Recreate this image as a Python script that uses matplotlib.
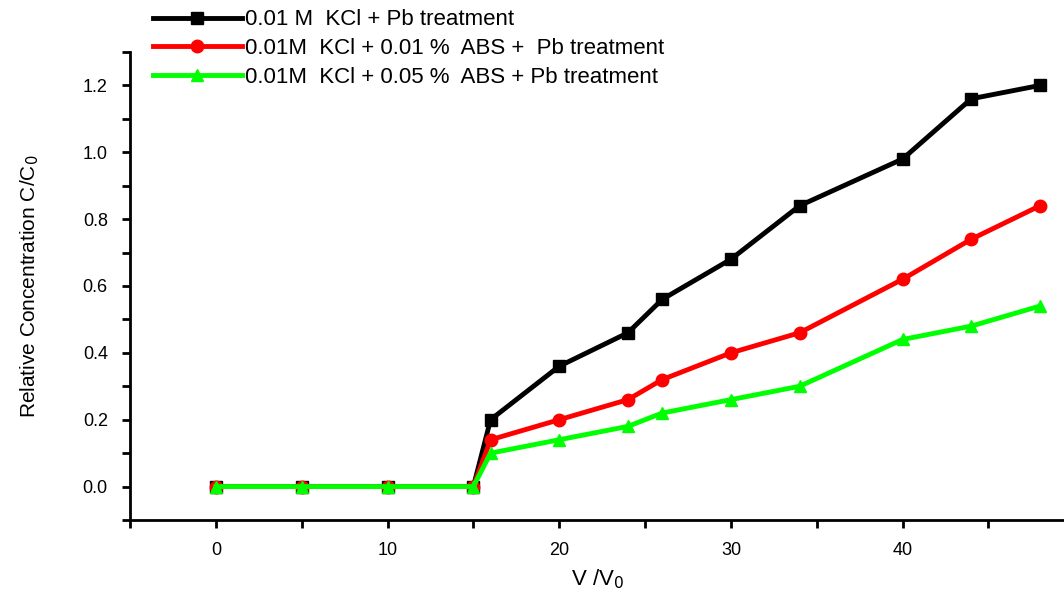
import numpy as np
import matplotlib.pyplot as plt
from matplotlib.ticker import MultipleLocator

plt.rcParams['font.family'] = ['Liberation Sans', 'DejaVu Sans']

# volume ratio V/V0
vv = [0, 5, 10, 15, 16, 20, 24, 26, 30, 34, 40, 44, 48]

# relative concentration C/C0
kcl_pb = [0, 0, 0, 0, 0.20, 0.36, 0.46, 0.56, 0.68, 0.84, 0.98, 1.16, 1.20]
abs001_pb = [0, 0, 0, 0, 0.14, 0.20, 0.26, 0.32, 0.40, 0.46, 0.62, 0.74, 0.84]
abs005_pb = [0, 0, 0, 0, 0.10, 0.14, 0.18, 0.22, 0.26, 0.30, 0.44, 0.48, 0.54]

labels = ['0.01 M  KCl + Pb treatment',
          '0.01M  KCl + 0.01 %  ABS +  Pb treatment',
          '0.01M  KCl + 0.05 %  ABS + Pb treatment']

fig = plt.figure(figsize=(10.64, 5.94), dpi=100)
ax = fig.add_axes([0.1222, 0.1246, 0.8778, 0.7879])

ax.plot(vv, kcl_pb, color='black', lw=3.5, marker='s', ms=8, label=labels[0])
ax.plot(vv, abs001_pb, color='#ff0000', lw=3.5, marker='o', ms=9, label=labels[1])
ax.plot(vv, abs005_pb, color='#00ff00', lw=3.5, marker='^', ms=9, label=labels[2])

ax.set_xlim(-5, 49.4)
ax.set_ylim(-0.1, 1.3)
ax.xaxis.set_major_locator(MultipleLocator(10))
ax.xaxis.set_minor_locator(MultipleLocator(5))
ax.yaxis.set_minor_locator(MultipleLocator(0.1))
ax.set_yticks(np.arange(0, 1.21, 0.2))
ax.set_yticklabels(['%.1f' % v for v in np.arange(0, 1.21, 0.2)])

for s in ['top', 'right']:
    ax.spines[s].set_visible(False)
for s in ['left', 'bottom']:
    ax.spines[s].set_linewidth(2)

ax.tick_params(which='major', direction='out', length=6, width=2, labelsize=13, pad=10)
ax.tick_params(which='minor', direction='out', length=6, width=2)

ax.set_xlabel('V /V$_0$', fontsize=16, labelpad=6)
ax.set_ylabel('Relative Concentration C/C$_0$', fontsize=15, labelpad=30)

fig.legend(loc='upper left', bbox_to_anchor=(0.125, 1.018), frameon=False,
           fontsize=16, handlelength=4.0, handletextpad=0.15, labelspacing=0.35)

fig.savefig('out.png', dpi=100)
